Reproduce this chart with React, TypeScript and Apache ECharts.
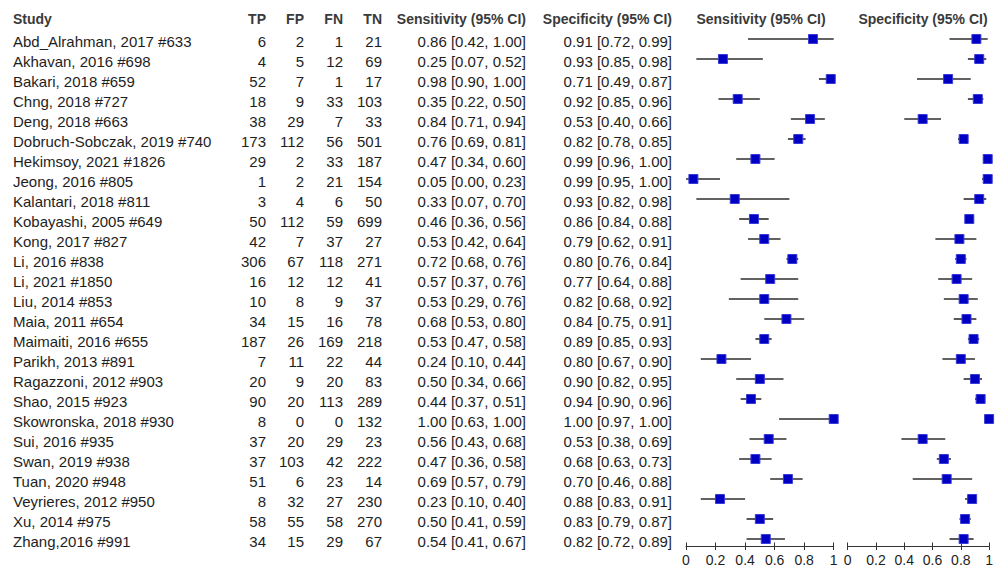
import React, { useEffect, useRef } from "react";
import * as echarts from "echarts";

const studies = [
  "Abd_Alrahman, 2017 #633", "Akhavan, 2016 #698", "Bakari, 2018 #659", "Chng, 2018 #727",
  "Deng, 2018 #663", "Dobruch-Sobczak, 2019 #740", "Hekimsoy, 2021 #1826", "Jeong, 2016 #805",
  "Kalantari, 2018 #811", "Kobayashi, 2005 #649", "Kong, 2017 #827", "Li, 2016 #838",
  "Li, 2021 #1850", "Liu, 2014 #853", "Maia, 2011 #654", "Maimaiti, 2016 #655",
  "Parikh, 2013 #891", "Ragazzoni, 2012 #903", "Shao, 2015 #923", "Skowronska, 2018 #930",
  "Sui, 2016 #935", "Swan, 2019 #938", "Tuan, 2020 #948", "Veyrieres, 2012 #950",
  "Xu, 2014 #975", "Zhang,2016 #991",
];
const TP = [6, 4, 52, 18, 38, 173, 29, 1, 3, 50, 42, 306, 16, 10, 34, 187, 7, 20, 90, 8, 37, 37, 51, 8, 58, 34];
const FP = [2, 5, 7, 9, 29, 112, 2, 2, 4, 112, 7, 67, 12, 8, 15, 26, 11, 9, 20, 0, 20, 103, 6, 32, 55, 15];
const FN = [1, 12, 1, 33, 7, 56, 33, 21, 6, 59, 37, 118, 12, 9, 16, 169, 22, 20, 113, 0, 29, 42, 23, 27, 58, 29];
const TN = [21, 69, 17, 103, 33, 501, 187, 154, 50, 699, 27, 271, 41, 37, 78, 218, 44, 83, 289, 132, 23, 222, 14, 230, 270, 67];

const sens = [0.86, 0.25, 0.98, 0.35, 0.84, 0.76, 0.47, 0.05, 0.33, 0.46, 0.53, 0.72, 0.57, 0.53, 0.68, 0.53, 0.24, 0.50, 0.44, 1.00, 0.56, 0.47, 0.69, 0.23, 0.50, 0.54];
const sensLo = [0.42, 0.07, 0.90, 0.22, 0.71, 0.69, 0.34, 0.00, 0.07, 0.36, 0.42, 0.68, 0.37, 0.29, 0.53, 0.47, 0.10, 0.34, 0.37, 0.63, 0.43, 0.36, 0.57, 0.10, 0.41, 0.41];
const sensHi = [1.00, 0.52, 1.00, 0.50, 0.94, 0.81, 0.60, 0.23, 0.70, 0.56, 0.64, 0.76, 0.76, 0.76, 0.80, 0.58, 0.44, 0.66, 0.51, 1.00, 0.68, 0.58, 0.79, 0.40, 0.59, 0.67];
const spec = [0.91, 0.93, 0.71, 0.92, 0.53, 0.82, 0.99, 0.99, 0.93, 0.86, 0.79, 0.80, 0.77, 0.82, 0.84, 0.89, 0.80, 0.90, 0.94, 1.00, 0.53, 0.68, 0.70, 0.88, 0.83, 0.82];
const specLo = [0.72, 0.85, 0.49, 0.85, 0.40, 0.78, 0.96, 0.95, 0.82, 0.84, 0.62, 0.76, 0.64, 0.68, 0.75, 0.85, 0.67, 0.82, 0.90, 0.97, 0.38, 0.63, 0.46, 0.83, 0.79, 0.72];
const specHi = [0.99, 0.98, 0.87, 0.96, 0.66, 0.85, 1.00, 1.00, 0.98, 0.88, 0.91, 0.84, 0.88, 0.92, 0.91, 0.93, 0.90, 0.95, 0.96, 1.00, 0.69, 0.73, 0.88, 0.91, 0.87, 0.89];

const headers = ["Study", "TP", "FP", "FN", "TN", "Sensitivity (95% CI)", "Specificity (95% CI)"];
const plotHeaders = ["Sensitivity (95% CI)", "Specificity (95% CI)"];

const FONT = '"Liberation Sans", Arial, sans-serif';
const TEXT_COLOR = "#1e1e1e";
const HEAD_COLOR = "#3a3a3a";

const fmtCI = (v: number, lo: number, hi: number) =>
  `${v.toFixed(2)} [${lo.toFixed(2)}, ${hi.toFixed(2)}]`;

export default function App() {
  const ref = useRef<HTMLDivElement>(null);
  useEffect(() => {
    if (!ref.current) return;
    const chart = echarts.init(ref.current, undefined, { renderer: "svg" });

    const rowY = (i: number) => 41.5 + 20 * i;
    const colRight = [266, 304, 343, 382, 526, 672];
    const texts: any[] = [];
    const mk = (text: string, x: number, y: number, align: string, bold = false) => ({
      type: "text",
      x,
      y,
      silent: true,
      style: {
        text,
        font: `${bold ? "bold 14px" : "15px"} ${FONT}`,
        fill: bold ? HEAD_COLOR : TEXT_COLOR,
        textAlign: align,
        textVerticalAlign: "middle",
        verticalAlign: "middle",
      },
    });
    texts.push(mk(headers[0], 13, 18.5, "left", true));
    for (let c = 1; c < headers.length; c++) texts.push(mk(headers[c], colRight[c - 1], 18.5, "right", true));
    texts.push(mk(plotHeaders[0], 761, 18.5, "center", true));
    texts.push(mk(plotHeaders[1], 923, 18.5, "center", true));
    studies.forEach((s, i) => {
      const y = rowY(i);
      texts.push(mk(s, 13, y, "left"));
      texts.push(mk(String(TP[i]), colRight[0], y, "right"));
      texts.push(mk(String(FP[i]), colRight[1], y, "right"));
      texts.push(mk(String(FN[i]), colRight[2], y, "right"));
      texts.push(mk(String(TN[i]), colRight[3], y, "right"));
      texts.push(mk(fmtCI(sens[i], sensLo[i], sensHi[i]), colRight[4], y, "right"));
      texts.push(mk(fmtCI(spec[i], specLo[i], specHi[i]), colRight[5], y, "right"));
    });

    const gridTop = 29;
    const gridBottom = 568 - 546.5;
    const grids = [
      { left: 686, width: 147.7, top: gridTop, bottom: gridBottom },
      { left: 847.7, width: 147.6, top: gridTop, bottom: gridBottom },
    ];
    const mainX = (gi: number) => ({
      type: "value",
      gridIndex: gi,
      min: 0,
      max: 1,
      interval: 0.2,
      position: "bottom",
      axisLine: { show: true, onZero: false, lineStyle: { color: "#333", width: 1 } },
      axisTick: { show: true, length: 3.5, lineStyle: { color: "#333", width: 1 } },
      axisLabel: {
        show: true,
        margin: 6,
        fontFamily: FONT,
        fontSize: 14,
        color: TEXT_COLOR,
      },
      splitLine: { show: false },
    });
    const innerX = (gi: number) => ({
      type: "value",
      gridIndex: gi,
      min: 0,
      max: 1,
      interval: 0.2,
      position: "bottom",
      axisLine: { show: false, onZero: false },
      axisTick: { show: true, inside: true, length: 4, lineStyle: { color: "#333", width: 1 } },
      axisLabel: { show: false },
      splitLine: { show: false },
    });
    const yAx = (gi: number) => ({
      type: "value",
      gridIndex: gi,
      inverse: true,
      min: -0.5,
      max: 25.375,
      show: false,
      splitLine: { show: false },
    });

    const ciSeries = (gi: number, lo: number[], hi: number[]) => ({
      type: "custom",
      xAxisIndex: gi,
      yAxisIndex: gi,
      clip: false,
      silent: true,
      encode: { x: [0, 1], y: 2 },
      data: lo.map((l, i) => [l, hi[i], i]),
      renderItem: (params: any, api: any) => {
        const p1 = api.coord([api.value(0), api.value(2)]);
        const p2 = api.coord([api.value(1), api.value(2)]);
        return {
          type: "line",
          shape: { x1: p1[0], y1: p1[1], x2: p2[0], y2: p2[1] },
          style: { stroke: "#2e2e2e", lineWidth: 1.6 },
        };
      },
    });
    const ptSeries = (gi: number, v: number[]) => ({
      type: "scatter",
      xAxisIndex: gi,
      yAxisIndex: gi,
      clip: false,
      silent: true,
      symbol: "rect",
      symbolSize: 9,
      itemStyle: { color: "#0000c4", borderColor: "#3a3ad8", borderWidth: 1, opacity: 1 },
      data: v.map((x, i) => [x, i]),
      z: 3,
    });

    chart.setOption({
      animation: false,
      backgroundColor: "#ffffff",
      grid: grids,
      xAxis: [mainX(0), mainX(1), innerX(0), innerX(1)],
      yAxis: [yAx(0), yAx(1)],
      series: [
        ciSeries(0, sensLo, sensHi),
        ptSeries(0, sens),
        ciSeries(1, specLo, specHi),
        ptSeries(1, spec),
      ],
      graphic: texts,
    });
    return () => chart.dispose();
  }, []);
  return (
    <div
      ref={ref}
      style={{ position: "fixed", left: 0, top: 0, width: 996, height: 568, background: "#fff" }}
    />
  );
}
